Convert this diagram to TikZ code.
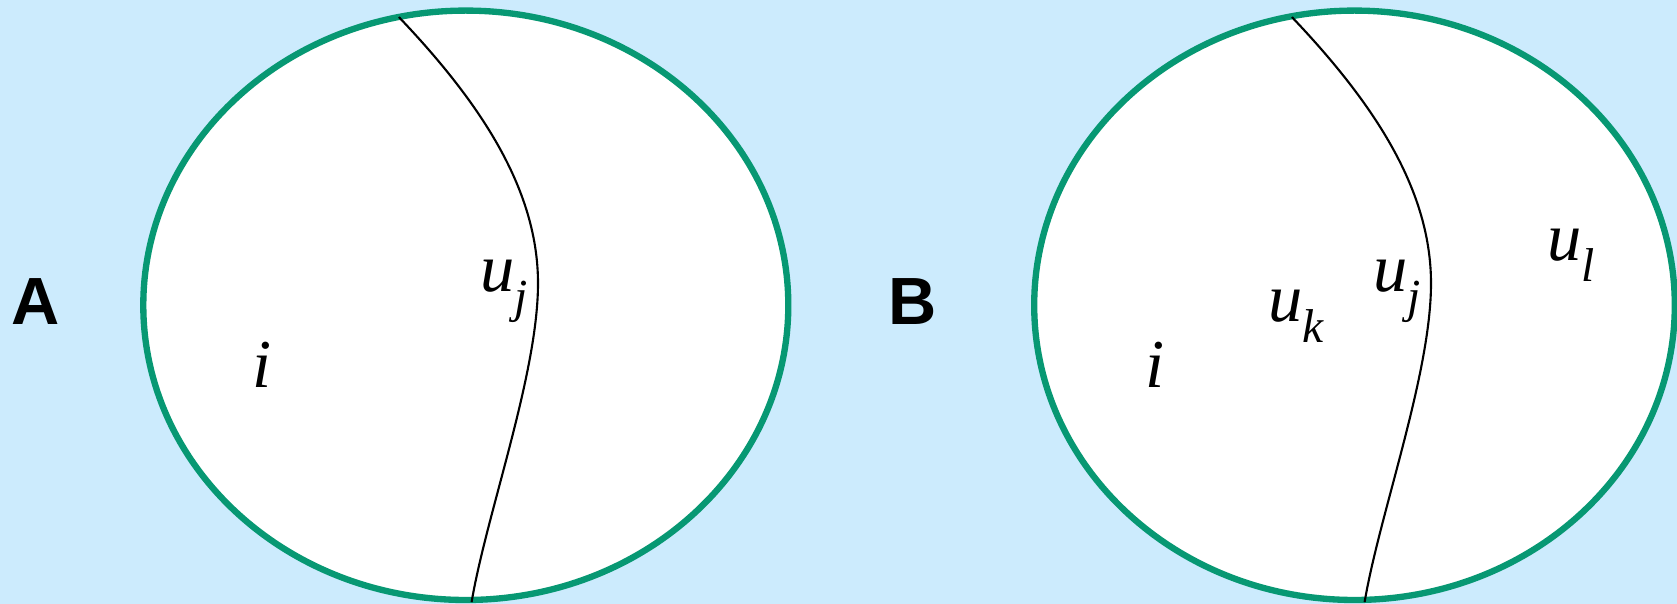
\documentclass[tikz,border=0pt]{standalone}
\usepackage{fontspec}
\setmainfont{Liberation Serif}
\setsansfont{Liberation Sans}
\usepackage{tikz}
\usetikzlibrary{positioning, calc}
\definecolor{Sky_Light}{HTML}{CCEBFD}
\definecolor{Cell_Green}{HTML}{079873}
% italic letter with a lowered subscript
\newcommand{\sublbl}[2]{#1\raisebox{-0.3em}{\fontsize{13.5}{15}\selectfont #2}}

\begin{document}
\begin{tikzpicture}[
    boundary/.style={draw=Cell_Green, line width=1.8pt, fill=white},
    divide/.style={draw=black, line width=0.6pt},
    var/.style={font=\itshape\fontsize{19.5}{22}\selectfont, inner sep=0pt},
    panel/.style={font=\sffamily\bfseries\fontsize{19}{22}\selectfont, inner sep=0pt}]
  % Background
  \fill[Sky_Light] (0,0) rectangle (16.77,6.04);
  \useasboundingbox (0,0) rectangle (16.77,6.04);
  % Panel A: cell with one boundary
  \draw[boundary] (4.658,2.987) ellipse [x radius=3.225, y radius=2.947];
  \draw[divide] (3.989,5.869) .. controls (4.845,4.971) and (5.38,4.115) .. (5.38,3.206)
    .. controls (5.38,2.297) and (4.866,0.906) .. (4.716,0.019);
  \node[panel] (labA) at (0.353,3.024) {A};
  \node[var] (iA) at (2.62,2.393) {i};
  \node[var, anchor=base west] (ujA) at (4.80,3.12) {\sublbl{u}{j}};
  % Panel B: same cell, more neighbours
  \draw[boundary] (13.545,2.987) ellipse [x radius=3.203, y radius=2.947];
  \draw[divide] (12.919,5.869) .. controls (13.775,4.971) and (14.31,4.115) .. (14.31,3.206)
    .. controls (14.31,2.297) and (13.796,0.906) .. (13.646,0.019);
  \node[panel] (labB) at (9.123,3.024) {B};
  \node[var] (iB) at (11.55,2.393) {i};
  \node[var, anchor=base west] (ukB) at (12.68,2.82) {\sublbl{u}{k}};
  \node[var, anchor=base west] (ujB) at (13.73,3.12) {\sublbl{u}{j}};
  \node[var, anchor=base west] (ulB) at (15.47,3.43) {\sublbl{u}{l}};
\end{tikzpicture}
\end{document}
